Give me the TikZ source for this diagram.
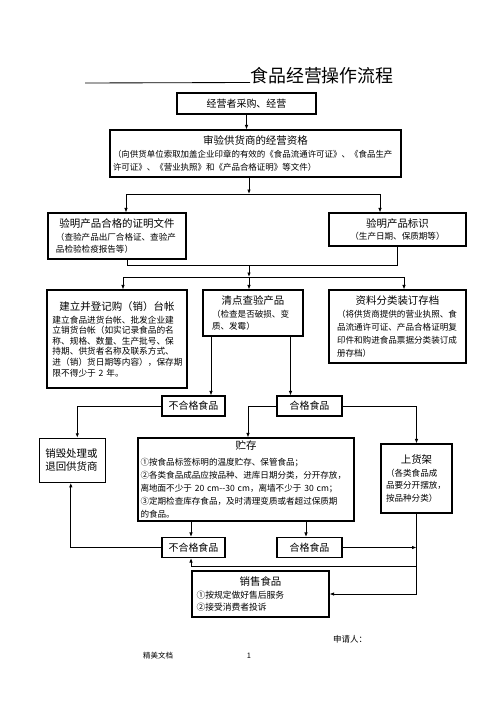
\documentclass[tikz,border=0pt]{standalone}
\usepackage{fontspec}
\setmainfont{Noto Sans CJK SC}
\usetikzlibrary{arrows.meta}
\setlength{\parindent}{0pt}
\newcommand{\boxhead}[1]{{\centering\fontsize{10.5}{13}\selectfont #1\par}}

\begin{document}
\begin{tikzpicture}[x=1bp, y=-1bp,
    flowbox/.style={draw, line width=1.1bp, inner ysep=2bp, align=left,
      font=\fontsize{8.6}{13}\selectfont},
    tagbox/.style={draw, line width=1.1bp, minimum height=20bp, inner sep=0pt,
      font=\fontsize{10}{12}\selectfont},
    link/.style={line width=0.85bp},
    linkarr/.style={link, -{Latex[length=4.5bp, width=3.5bp]}}]
    \useasboundingbox (0,0) rectangle (496,702);
    % Title with underline
    \node[anchor=base west, inner sep=0pt, font=\fontsize{18}{20}\selectfont] (title) at (250,82.5) {食品经营操作流程};
    \draw[link] (85,83) -- (title.base west);
    % Boxes, top part
    \node[flowbox, align=center, minimum width=139bp, minimum height=21bp, inner xsep=4bp, text width=131bp,
      font=\fontsize{10}{12}\selectfont] (buy) at (246.5,103.5) {经营者采购、经营};
    \node[flowbox, minimum width=291bp, minimum height=47bp, inner xsep=3bp, text width=285bp,
      font=\fontsize{8.5}{13}\selectfont] (audit) at (255.5,153.5) {\boxhead{审验供货商的经营资格}
      （向供货单位索取加盖企业印章的有效的《食品流通许可证》、《食品生产\\
      许可证》、《营业执照》和《产品合格证明》等文件）};
    \node[flowbox, minimum width=138bp, minimum height=46bp, inner xsep=8bp, text width=122bp] (cert) at (117,236) {\boxhead{验明产品合格的证明文件}
      （查验产品出厂合格证、查验产\\
      品检验检疫报告等）};
    \node[flowbox, align=center, minimum width=137bp, minimum height=33bp, inner xsep=4bp, text width=129bp] (mark) at (397.5,229.5) {\boxhead{验明产品标识}
      （生产日期、保质期等）};
    \node[flowbox, minimum width=140bp, minimum height=98bp, inner xsep=5.5bp, text width=129bp,
      font=\fontsize{8.7}{10.6}\selectfont] (ledger) at (117,339) {\boxhead{建立并登记购（销）台帐}\vspace{2.4bp}
      建立食品进货台帐、批发企业建\\
      立销货台帐（如实记录食品的名\\
      称、规格、数量、生产批号、保\\
      持期、供货者名称及联系方式、\\
      进（销）货日期等内容），保存期\\
      限不得少于 2 年。};
    \node[flowbox, minimum width=100bp, minimum height=46bp, inner xsep=9bp, text width=82bp] (check) at (253,313) {\boxhead{清点查验产品}
      （检查是否破损、变\\
      质、发霉）};
    \node[flowbox, minimum width=137bp, minimum height=73bp, inner xsep=8bp, text width=121bp] (file) at (397.5,326.5) {\boxhead{资料分类装订存档}
      （将供货商提供的营业执照、食\\
      品流通许可证、产品合格证明复\\
      印件和购进食品票据分类装订成\\
      册存档）};
    % Boxes, lower part
    \node[tagbox, minimum width=63bp] (bad1) at (193.5,406) {不合格食品};
    \node[tagbox, minimum width=65bp] (good1) at (309.5,406) {合格食品};
    \node[flowbox, minimum width=66bp, minimum height=44bp, inner xsep=6bp, text width=54bp,
      font=\fontsize{10.5}{13}\selectfont] (destroy) at (72.3,460.3) {销毁处理或\\
      退回供货商\par\vspace{11bp}};
    \node[flowbox, minimum width=216bp, minimum height=83bp, inner xsep=2.5bp, text width=211bp] (store) at (246,479.5) {\boxhead{贮存}\vspace{3.5bp}
      ①按食品标签标明的温度贮存、保管食品；\\
      ②各类食品成品应按品种、进库日期分类，分开存放，\\
      离地面不少于 20 cm-{}-30 cm，离墙不少于 30 cm；\\
      ③定期检查库存食品，及时清理变质或者超过保质期\\
      的食品。};
    \node[flowbox, minimum width=71bp, minimum height=69bp, inner xsep=5bp, text width=61bp] (shelf) at (416.5,478.5) {\boxhead{上货架}
      （各类食品成\\
      品要分开摆放，\\
      按品种分类）\par\vspace{7bp}};
    \node[tagbox, minimum width=63bp] (bad2) at (193.5,547.5) {不合格食品};
    \node[tagbox, minimum width=65bp] (good2) at (309.5,547.5) {合格食品};
    \node[flowbox, minimum width=137bp, minimum height=46bp, inner xsep=4.5bp, text width=128bp,
      font=\fontsize{8.8}{12.6}\selectfont] (sell) at (260.5,594) {\boxhead{销售食品}
      ①按规定做好售后服务\\
      ②接受消费者投诉};
    % Footer
    \node[anchor=west, inner sep=0pt, font=\fontsize{8.5}{10}\selectfont] (applicant) at (333,639) {申请人：};
    \node[anchor=west, inner sep=0pt, font=\fontsize{7.5}{9}\selectfont] (footer) at (143,656) {精美文档};
    \node[inner sep=0pt, font=\fontsize{7.5}{9}\selectfont] (pageno) at (249,656) {1};
    % Columns and junctions of the connectors
    \coordinate (split1) at (249,194);
    \coordinate (split1L) at (126,194);
    \coordinate (split1R) at (380,194);
    \coordinate (merge) at (249,265);
    \coordinate (mergeL) at (127,265);
    \coordinate (mergeR) at (397,265);
    \coordinate (split2) at (249,277);
    \coordinate (split2L) at (123,277);
    \coordinate (split2R) at (404,277);
    \coordinate (colA) at (211,0);
    \coordinate (colB) at (290.5,0);
    \coordinate (colC) at (191,0);
    \coordinate (colD) at (306,0);
    \coordinate (back) at (416.5,566);
    % Connectors, top part
    \draw[linkarr] (buy.south) -- (buy.south |- audit.north);
    \draw[linkarr] (split1 |- audit.south) -- (split1);
    \draw[link] (split1L) -- (split1R);
    \draw[linkarr] (split1L) -- (split1L |- cert.north);
    \draw[linkarr] (split1R) -- (split1R |- mark.north);
    \draw[link] (mergeL |- cert.south) -- (mergeL) -- (mergeR) -- (mergeR |- mark.south);
    \draw[linkarr] (merge) -- (split2);
    \draw[link] (split2L) -- (split2R);
    \draw[linkarr] (split2L) -- (split2L |- ledger.north);
    \draw[linkarr] (split2) -- (split2 |- check.north);
    \draw[linkarr] (split2R) -- (split2R |- file.north);
    \draw[linkarr] (check.south -| colA) -- (bad1.north -| colA);
    \draw[linkarr] (check.south -| colB) -- (good1.north -| colB);
    % Connectors, lower part
    \draw[linkarr] (bad1.west) -| ([xshift=5bp]destroy.north);
    \draw[linkarr] (good1.west) -| ([xshift=2bp]store.north);
    \draw[linkarr] (good1.east) -| (shelf.north);
    \draw[linkarr] (store.south -| colC) -- (bad2.north -| colC);
    \draw[linkarr] (store.south -| colD) -- (good2.north -| colD);
    \draw[linkarr] (bad2.west) -| ([xshift=-1.5bp]destroy.south);
    \draw[linkarr] (good2.east) -- (good2.east -| shelf.south);
    \draw[linkarr] (shelf.south) |- (sell.east);
    \draw[linkarr] (back) -| (bad2.south -| colC);
\end{tikzpicture}
\end{document}
